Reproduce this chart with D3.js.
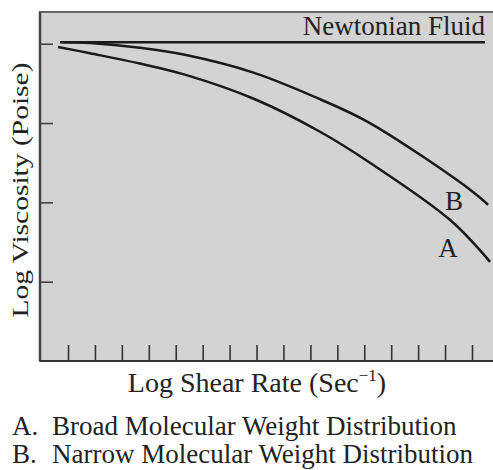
<!DOCTYPE html>
<html>
<head>
<meta charset="utf-8">
<script src="https://cdn.jsdelivr.net/npm/d3@7"></script>
<style>
  body { margin: 0; background: #fff; }
  text { font-family: "Liberation Serif", "Times New Roman", serif; fill: #222; }
</style>
</head>
<body>
<script>
var w = 493;
var h = 470;

// log shear rate (tick units) and log viscosity (tick units)
var curveA_x = [-0.37, 0.82, 2.67, 4.34, 6.94, 9.36, 11.21, 14.18, 15.67];
var curveA_y = [3.96, 3.88, 3.75, 3.61, 3.30, 2.89, 2.50, 1.78, 1.25];
var curveB_x = [-0.22, 0.82, 2.67, 4.34, 6.94, 9.36, 11.21, 14.93, 15.60];
var curveB_y = [4.02, 4.01, 3.95, 3.86, 3.63, 3.30, 3.00, 2.16, 1.97];
var newton_x = [-0.3, 15.48];
var newton_y = [4.02, 4.02];

var xTicks = d3.range(0, 16);
var yTicks = [1, 2, 3, 4];

var legendKeys = ["A.", "B."];
var legendLabels = ["Broad Molecular Weight Distribution", "Narrow Molecular Weight Distribution"];

var svg = d3.select("body")
    .append("svg")
    .attr("width", w)
    .attr("height", h);

var pLeft = 40, pTop = 12, pBottom = 361, pRight = 493;

var xScale = d3.scaleLinear()
    .domain([-1.04, 15.78])
    .range([pLeft, pRight]);

var yScale = d3.scaleLinear()
    .domain([0, 4.4])
    .range([pBottom, pTop]);

// gray plot panel
svg.append("rect")
    .attr("x", pLeft)
    .attr("y", pTop)
    .attr("width", pRight - pLeft + 10)
    .attr("height", pBottom - pTop)
    .attr("fill", "#d3d3d3")
    .attr("stroke", "#666")
    .attr("stroke-width", 2);

// darker left and bottom axes
svg.append("line")
    .attr("x1", pLeft).attr("y1", pTop)
    .attr("x2", pLeft).attr("y2", pBottom)
    .attr("stroke", "#444").attr("stroke-width", 2.5);
svg.append("line")
    .attr("x1", pLeft).attr("y1", pBottom)
    .attr("x2", pRight).attr("y2", pBottom)
    .attr("stroke", "#333").attr("stroke-width", 2);

var xAxis = d3.axisBottom(xScale)
    .tickValues(xTicks)
    .tickSize(-16)
    .tickFormat("");

svg.append("g")
    .attr("transform", "translate(0," + pBottom + ")")
    .call(xAxis)
    .call(function(g) { g.select(".domain").remove(); })
    .selectAll("line")
    .attr("stroke", "#333")
    .attr("stroke-width", 1.6);

var yAxis = d3.axisLeft(yScale)
    .tickValues(yTicks)
    .tickSize(-13)
    .tickFormat("");

svg.append("g")
    .attr("transform", "translate(" + pLeft + ",0)")
    .call(yAxis)
    .call(function(g) { g.select(".domain").remove(); })
    .selectAll("line")
    .attr("stroke", "#444")
    .attr("stroke-width", 1.6);

var line = d3.line()
    .x(function(d) { return xScale(d[0]); })
    .y(function(d) { return yScale(d[1]); })
    .curve(d3.curveCatmullRom.alpha(0.5));

function pairs(xs, ys) {
  return xs.map(function(x, i) { return [x, ys[i]]; });
}

svg.append("path")
    .datum(pairs(newton_x, newton_y))
    .attr("d", line)
    .attr("fill", "none")
    .attr("stroke", "#1a1a1a")
    .attr("stroke-width", 2.5);

svg.append("path")
    .datum(pairs(curveB_x, curveB_y))
    .attr("d", line)
    .attr("fill", "none")
    .attr("stroke", "#1a1a1a")
    .attr("stroke-width", 2.5);

svg.append("path")
    .datum(pairs(curveA_x, curveA_y))
    .attr("d", line)
    .attr("fill", "none")
    .attr("stroke", "#1a1a1a")
    .attr("stroke-width", 2.5);

svg.append("text")
    .attr("x", 485)
    .attr("y", 35)
    .attr("text-anchor", "end")
    .attr("font-size", 27)
    .text("Newtonian Fluid");

svg.append("text")
    .attr("x", 454)
    .attr("y", 210)
    .attr("text-anchor", "middle")
    .attr("font-size", 27)
    .text("B");

svg.append("text")
    .attr("x", 448)
    .attr("y", 257)
    .attr("text-anchor", "middle")
    .attr("font-size", 27)
    .text("A");

// axis titles
var xt = svg.append("text")
    .attr("x", 257)
    .attr("y", 392)
    .attr("text-anchor", "middle")
    .attr("font-size", 28);
xt.append("tspan").text("Log Shear Rate (Sec");
xt.append("tspan").attr("font-size", 17).attr("dy", -11).text("\u2212");
xt.append("tspan").attr("font-size", 17).text("1");
xt.append("tspan").attr("dy", 11).text(")");

svg.append("text")
    .attr("transform", "translate(28,190) rotate(-90)")
    .attr("text-anchor", "middle")
    .attr("font-size", 24)
    .attr("textLength", 255)
    .attr("lengthAdjust", "spacingAndGlyphs")
    .text("Log Viscosity (Poise)");

// legend
svg.selectAll(".lkey")
    .data(legendKeys)
    .enter()
    .append("text")
    .attr("class", "lkey")
    .attr("x", 12)
    .attr("y", function(d, i) { return 435 + i * 28; })
    .attr("font-size", 27)
    .text(function(d) { return d; });

svg.selectAll(".llab")
    .data(legendLabels)
    .enter()
    .append("text")
    .attr("class", "llab")
    .attr("x", 52)
    .attr("y", function(d, i) { return 435 + i * 28; })
    .attr("font-size", 27)
    .text(function(d) { return d; });
</script>
</body>
</html>
